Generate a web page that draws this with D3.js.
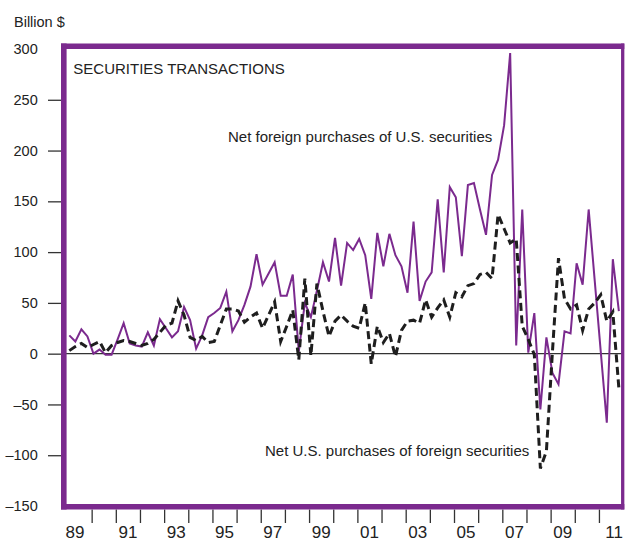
<!DOCTYPE html>
<html>
<head>
<meta charset="utf-8">
<script src="https://cdn.jsdelivr.net/npm/d3@7"></script>
<style>
  body { margin: 0; background: #fff; }
  text { font-family: "Liberation Sans", Arial, Helvetica, sans-serif; fill: #222; }
</style>
</head>
<body>
<div id="chart"></div>
<script>
// quarterly data, 1989 Q1 .. 2011 Q4 (billion $)
var startYear = 1989;

// net foreign purchases of U.S. securities
var foreignPurchases = [
  18, 12, 24, 17,   0, 4, -1, -1,   14, 30, 10, 8,   7, 21, 8, 34,
  25, 16, 22, 46,   33, 5, 18, 36,  40, 45, 61, 22,  33, 48, 66, 98,
  68, 79, 90, 57,   57, 78, 2, 50,  36, 62, 90, 71,  114, 67, 109, 102,
  113, 97, 54, 119, 86, 118, 97, 86, 60, 130, 52, 71, 80, 152, 80, 164,
  154, 96, 166, 168, 142, 117, 176, 191, 225, 296, 8, 142, 1, 40, -55, 16,
  -19, -30, 22, 20, 89, 68, 142, 72, 2, -68, 93, 42
];

// net U.S. purchases of foreign securities
var usPurchases = [
  3, 7, 10, 6,    9, 12, 1, 8,    11, 13, 12, 10,   8, 10, 14, 21,
  28, 30, 52, 38,  16, 13, 17, 11,  12, 28, 44, 44,  42, 31, 36, 40,
  25, 38, 51, 12,  27, 43, -6, 74,  -2, 69, 42, 17,  32, 38, 32, 27,
  25, 50, -10, 27, 11, 20, -3, 23,  32, 33, 30, 53,  36, 45, 53, 36,
  60, 56, 67, 69,  78, 80, 74, 137, 123, 109, 113, 27, 14, -1, -113, -96,
  2, 94, 54, 44,  48, 23, 44, 50,  58, 32, 41, -34
];

var yTicks = [-150, -100, -50, 0, 50, 100, 150, 200, 250, 300];
var yearTicks = d3.range(1990, 2012);
var yearLabels = d3.range(1989, 2012, 2);

var width = 625;
var height = 542;
var purple = '#7b2a8e';

var svg = d3.select('#chart').append('svg')
  .attr('width', width)
  .attr('height', height);

var x = d3.scaleLinear().domain([1989, 2012]).range([67.5, 623.1]);
var y = d3.scaleLinear().domain([-150, 300]).range([506, 49]);

function quarterDate(i) { return startYear + i / 4 + 0.075; }

// y axis
var yAxis = d3.axisLeft(y)
  .tickValues(yTicks)
  .tickSize(13)
  .tickPadding(10.3)
  .tickFormat(function (d) { return d < 0 ? '\u2013' + Math.abs(d) : d; });

var yg = svg.append('g')
  .attr('transform', 'translate(61,0)')
  .call(yAxis);
yg.select('.domain').remove();
yg.selectAll('.tick line')
  .attr('stroke', '#333')
  .attr('stroke-width', 1.3)
  .attr('opacity', function (d) { return (d === 300 || d === -150) ? 0 : 1; });
yg.selectAll('.tick text')
  .attr('fill', '#222')
  .style('font-size', '14.5px');

svg.append('text')
  .attr('x', 14)
  .attr('y', 27)
  .style('font-size', '14.5px')
  .text('Billion $');

// x axis ticks at year starts
var xAxis = d3.axisBottom(x)
  .tickValues(yearTicks)
  .tickSize(13.5)
  .tickFormat('');
var xg = svg.append('g')
  .attr('transform', 'translate(0,509.5)')
  .call(xAxis);
xg.select('.domain').remove();
xg.selectAll('.tick line')
  .attr('stroke', '#333')
  .attr('stroke-width', 1.3);

svg.append('g').selectAll('text')
  .data(yearLabels)
  .enter().append('text')
  .attr('x', function (d, i) {
    var nudge = i === 0 ? -4.5 : (i === yearLabels.length - 1 ? 3 : 0);
    return x(d + 0.5) + nudge;
  })
  .attr('y', 538)
  .attr('text-anchor', 'middle')
  .style('font-size', '17px')
  .text(function (d) { return d3.format('02d')(d % 100); });

// zero line
svg.append('line')
  .attr('x1', 64).attr('x2', 622)
  .attr('y1', y(0)).attr('y2', y(0))
  .attr('stroke', '#333')
  .attr('stroke-width', 1.3);

var line = d3.line()
  .x(function (d, i) { return x(quarterDate(i)); })
  .y(function (d) { return y(d); });

svg.append('path')
  .datum(foreignPurchases)
  .attr('fill', 'none')
  .attr('stroke', purple)
  .attr('stroke-width', 2)
  .attr('stroke-linejoin', 'miter')
  .attr('d', line);

svg.append('path')
  .datum(usPurchases)
  .attr('fill', 'none')
  .attr('stroke', '#1e1e1e')
  .attr('stroke-width', 3)
  .attr('stroke-dasharray', '8,4.5')
  .attr('d', line);

// frame
var frame = svg.append('g').attr('stroke', purple).attr('fill', 'none');
frame.append('line').attr('x1', 61).attr('x2', 624.3).attr('y1', 46.2).attr('y2', 46.2).attr('stroke-width', 5.6);
frame.append('line').attr('x1', 61).attr('x2', 624.3).attr('y1', 506.8).attr('y2', 506.8).attr('stroke-width', 5.6);
frame.append('line').attr('x1', 63.8).attr('x2', 63.8).attr('y1', 43.4).attr('y2', 509.6).attr('stroke-width', 5.6);
frame.append('line').attr('x1', 622.7).attr('x2', 622.7).attr('y1', 43.4).attr('y2', 509.6).attr('stroke-width', 3.3);

// annotations
svg.append('text')
  .attr('x', 73.3).attr('y', 74)
  .style('font-size', '15px')
  .text('SECURITIES TRANSACTIONS');

svg.append('text')
  .attr('x', 228).attr('y', 141.7)
  .style('font-size', '15px')
  .text('Net foreign purchases of U.S. securities');

svg.append('text')
  .attr('x', 529.3).attr('y', 456)
  .attr('text-anchor', 'end')
  .style('font-size', '15px')
  .text('Net U.S. purchases of foreign securities');
</script>
</body>
</html>
